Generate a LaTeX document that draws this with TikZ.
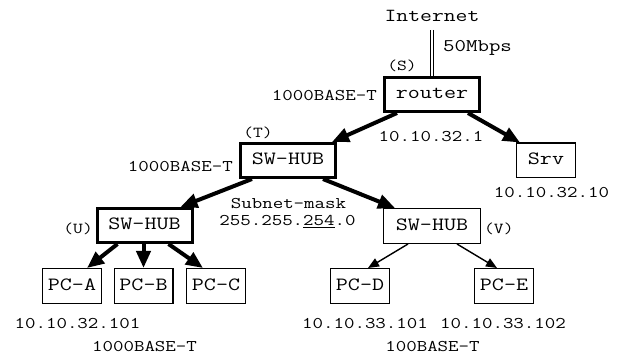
\documentclass[tikz,border=0pt]{standalone}
\usepackage{fontspec}
\setmainfont[FakeStretch=1.25]{Latin Modern Mono}
\usetikzlibrary{arrows.meta}

\tikzset{
  box/.style={draw, rectangle, inner sep=0pt, font=\fontsize{18.7}{21}\selectfont, text height=12pt, text depth=3pt},
  hubbox/.style={box, line width=3pt, minimum width=95pt, minimum height=34pt},
  pcbox/.style={box, line width=1.4pt, minimum width=58.6pt, minimum height=34.6pt},
  lbl/.style={inner sep=0pt, font=\fontsize{16.3}{19}\selectfont},
  tag/.style={inner sep=0pt, font=\fontsize{15.2}{18}\selectfont},
  fat/.style={line width=4pt, -{Triangle[length=17pt,width=14pt]}},
  slim/.style={line width=1.4pt, -{Triangle[length=11pt,width=9pt]}},
}

\begin{document}
\begin{tikzpicture}[x=1pt, y=-1pt]
  \useasboundingbox (0,0) rectangle (625,358);

  % uplink
  \node[lbl, font=\fontsize{18.4}{21}\selectfont] (inet) at (432,16) {Internet};
  \node[hubbox] (router) at (432,94.5) {router};
  \coordinate (up) at (432,30);
  \draw[line width=1pt, double distance=2.4pt] (up) -- (router.north);
  \node[lbl, anchor=west, font=\fontsize{17.8}{21}\selectfont] (bw) at (443,48) {50Mbps};
  \node[tag] (tS) at (402,66) {(S)};
  \node[lbl, anchor=east] (rlink) at (377,96) {1000BASE-T};
  \node[lbl] (rip) at (431,137) {10.10.32.1};

  % server
  \node[pcbox] (srv) at (546,160.5) {Srv};
  \node[lbl] (srvip) at (551.5,193) {10.10.32.10};

  % core switch
  \node[hubbox] (hubT) at (288,160.5) {SW-HUB};
  \node[tag] (tT) at (258,133) {(T)};
  \node[lbl, anchor=east] (tlink) at (233,167) {1000BASE-T};
  \node[lbl] (mask) at (288.5,204) {Subnet-mask};
  \node[lbl] (maskval) at (287.5,222) {255.255.\underline{254}.0};

  % edge switches
  \node[hubbox] (hubU) at (144.5,225.5) {SW-HUB};
  \node[tag, anchor=east] (tU) at (93,229) {(U)};
  \node[hubbox, line width=1.4pt, minimum width=96.6pt, minimum height=34.6pt] (hubV) at (432,226) {SW-HUB};
  \node[tag, anchor=west] (tV) at (484,229) {(V)};

  % clients
  \node[pcbox] (pca) at (72,286) {PC-A};
  \node[pcbox] (pcb) at (143.5,286) {PC-B};
  \node[pcbox] (pcc) at (216,286) {PC-C};
  \node[pcbox] (pcd) at (360,286) {PC-D};
  \node[pcbox] (pce) at (504,286) {PC-E};

  \node[lbl] (ipa) at (77.5,324) {10.10.32.101};
  \node[lbl] (lanU) at (144.5,347) {1000BASE-T};
  \node[lbl] (ipd) at (365,324) {10.10.33.101};
  \node[lbl] (ipe) at (503,324) {10.10.33.102};
  \node[lbl] (lanV) at (432.5,347) {100BASE-T};

  % links
  \draw[fat] ([xshift=14pt]router.south west) -- ([xshift=-5pt]hubT.north east);
  \draw[fat] ([xshift=-13pt]router.south east) -- ([xshift=4pt]srv.north west);
  \draw[fat] ([xshift=13pt]hubT.south west) -- ([xshift=-13pt]hubU.north east);
  \draw[fat] ([xshift=-14pt]hubT.south east) -- ([xshift=12pt]hubV.north west);
  \draw[fat] ([xshift=22pt]hubU.south west) -- ([xshift=15pt]pca.north);
  \draw[fat] (pcb.north |- hubU.south) -- (pcb.north);
  \draw[fat] ([xshift=-25pt]hubU.south east) -- ([xshift=-13pt]pcc.north);
  \draw[slim] ([xshift=-24pt]hubV.south) -- ([xshift=8pt]pcd.north);
  \draw[slim] ([xshift=25pt]hubV.south) -- ([xshift=-7pt]pce.north);
\end{tikzpicture}
\end{document}
